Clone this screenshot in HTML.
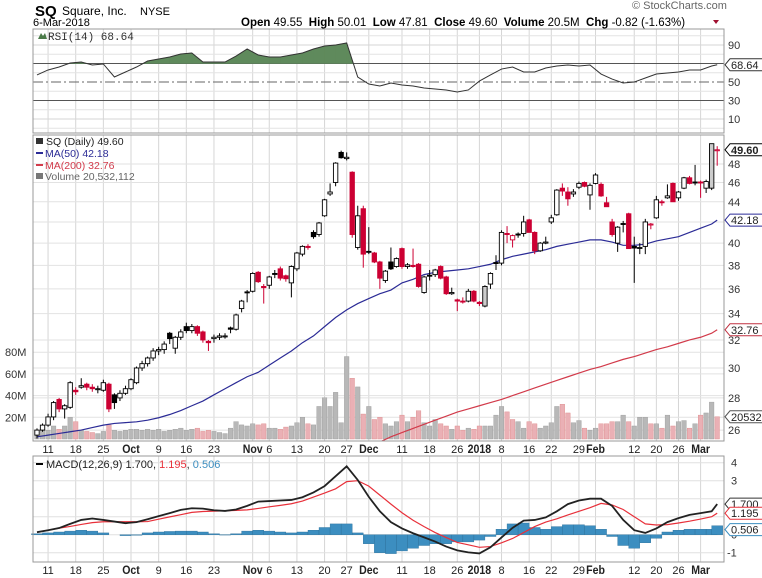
<!DOCTYPE html>
<html><head><meta charset="utf-8"><style>
body{margin:0;background:#fff;}
svg{display:block;font-family:"Liberation Sans",sans-serif;}
</style></head><body>
<svg id="c" width="762" height="578" xmlns="http://www.w3.org/2000/svg"></svg>
<script>
const tickLabels=["11","18","25","Oct","9","16","23","Nov","6","13","20","27","Dec","11","18","26","2018","8","16","22","29","Feb","12","20","26","Mar"];
const tickDays=[2,7,12,17,22,27,32,39,42,47,52,56,60,66,71,76,80,84,89,93,98,101,108,112,116,120];
const tickBold=[0,0,0,1,0,0,0,1,0,0,0,0,1,0,0,0,1,0,0,0,0,1,0,0,0,1];
const opens=[25.7,26.0,26.3,26.8,27.9,27.3,27.4,28.5,28.7,28.9,28.7,28.6,28.5,28.9,28.2,28.0,28.3,28.6,29.0,30.0,30.3,30.7,31.2,31.3,32.5,31.4,32.2,33.0,32.7,33.0,32.6,31.9,32.1,32.2,32.3,32.9,32.8,34.4,35.75,35.8,37.4,36.2,36.3,37.3,37.7,37.1,36.5,37.7,39.0,39.7,41.0,40.8,42.6,44.8,46.0,49.3,48.6,47.1,39.6,43.3,39.25,39.1,38.3,36.7,38.3,37.9,39.5,37.9,38.0,38.1,35.7,37.15,37.2,37.9,37.0,35.6,35.1,35.0,35.0,35.8,34.9,34.6,36.4,38.25,38.2,40.9,40.3,40.85,40.9,42.2,41.0,39.3,40.0,42.0,42.7,45.4,45.0,44.8,45.5,46.0,44.7,45.9,45.8,43.9,42.0,40.0,41.85,42.8,39.7,39.6,39.7,41.8,42.4,44.0,44.4,45.9,44.4,45.4,46.5,46.05,46.05,45.4,45.4,49.55];
const highs=[26.1,26.4,27.0,27.8,28.0,27.6,29.1,28.7,29.3,29.0,28.9,28.8,29.2,29.0,28.3,28.5,28.8,29.3,30.1,30.5,30.8,31.4,31.5,31.9,32.6,32.3,32.8,33.3,33.2,33.1,32.7,32.0,32.4,32.5,32.5,33.0,34.0,35.1,35.9,37.4,37.5,36.4,37.1,37.6,37.9,37.2,38.0,39.2,39.8,39.9,41.2,42.0,44.3,45.9,48.2,49.5,49.3,47.2,43.6,43.6,41.5,39.2,38.4,37.6,39.6,38.7,39.6,38.2,39.5,38.2,37.1,37.6,37.7,38.0,37.1,36.1,35.2,35.3,36.0,35.9,35.0,36.3,37.4,38.9,41.2,41.6,40.8,41.0,42.6,42.3,41.1,40.1,40.6,42.7,45.3,45.9,45.5,45.3,46.1,46.1,45.9,47.0,46.0,44.5,42.3,41.6,42.1,42.9,40.6,40.0,42.3,41.9,44.6,44.2,45.8,46.0,45.1,46.6,46.7,47.9,46.2,46.3,50.3,50.01];
const lows=[25.5,25.9,26.2,26.6,27.1,26.7,27.3,28.2,28.6,28.5,28.4,28.3,28.4,27.1,27.3,27.8,28.2,28.5,28.9,29.8,30.1,30.5,30.9,31.0,31.7,31.0,32.0,32.5,32.5,32.3,31.8,31.2,31.8,32.0,32.1,32.5,32.7,34.1,34.9,35.7,36.5,34.8,36.0,36.9,36.7,36.6,35.3,37.5,38.8,39.4,40.4,40.6,42.5,44.6,45.6,48.6,48.4,40.5,39.4,37.8,39.0,38.2,36.0,36.5,37.6,37.8,37.7,37.7,37.8,36.1,35.6,36.7,37.0,36.8,35.5,35.5,34.2,34.8,34.9,34.9,34.6,34.5,36.0,37.6,38.0,40.0,39.6,40.5,40.6,41.0,39.0,39.2,39.9,41.8,42.6,44.6,43.6,44.5,45.3,45.5,43.2,45.8,44.5,43.5,40.6,39.2,41.0,39.5,36.5,39.0,39.0,41.3,42.3,43.6,44.3,44.0,44.1,45.3,45.8,45.7,44.4,44.9,45.2,47.81];
const closes=[26.0,26.3,26.8,27.7,27.3,27.5,29.0,28.4,28.8,28.7,28.6,28.6,29.0,27.3,27.7,28.3,28.6,29.2,30.0,30.3,30.7,31.2,31.3,31.7,32.1,32.2,32.6,32.7,33.0,32.5,32.0,31.8,32.2,32.3,32.3,32.8,33.9,35.0,35.7,37.3,36.6,36.1,37.0,37.25,36.9,36.85,37.9,39.1,39.7,39.6,40.6,41.9,44.2,45.0,48.1,48.7,48.75,40.8,42.6,39.0,39.2,38.3,36.9,37.5,37.7,38.6,37.9,38.05,37.9,36.2,37.0,37.1,37.6,36.9,35.6,35.7,35.0,34.95,35.8,35.0,34.8,36.2,37.3,38.2,41.0,40.8,40.7,40.75,42.0,41.0,39.3,40.0,40.1,42.4,45.2,45.1,44.3,45.0,45.9,45.6,45.7,46.8,44.6,43.5,40.8,41.5,41.8,39.5,39.55,39.6,42.0,41.8,44.2,43.95,44.6,44.0,45.0,46.5,45.9,46.0,45.95,46.1,50.3,49.60];
const volumes=[8,10,8,12,9,12,20,16,8,7,6,5,7,13,8,7,8,9,9,8,9,8,9,7,8,9,10,8,9,10,7,8,7,6,5,10,16,13,12,14,13,14,10,10,9,11,12,15,20,14,13,30,38,30,43,15,76,56,48,23,30,18,20,14,12,16,22,16,20,26,15,12,18,14,12,9,12,8,10,9,12,12,12,22,30,25,18,16,10,16,14,10,12,15,30,32,24,15,17,10,8,10,14,14,16,16,22,16,12,20,20,14,14,10,22,12,16,17,10,14,22,24,34,20.5];
const ma50=[25.6,25.7,25.8,25.9,26.0,26.15,26.3,26.4,26.45,26.5,26.6,26.75,26.95,27.2,27.5,27.8,28.2,28.6,29.0,29.4,29.7,30.2,30.7,31.2,31.8,32.3,33.0,33.7,34.3,34.8,35.2,35.6,35.9,36.5,36.8,37.2,37.4,37.5,37.6,37.7,37.9,38.1,38.5,38.8,39.0,39.2,39.4,39.7,39.9,40.1,40.3,40.3,40.1,39.8,39.8,39.9,40.2,40.4,40.6,41.0,41.4,41.8,42.18];
const ma200=[null,null,null,null,null,null,null,null,null,null,null,null,null,null,null,null,null,null,null,null,null,null,null,null,null,null,null,null,null,null,null,25.3,25.6,25.85,26.1,26.35,26.6,26.85,27.1,27.3,27.5,27.7,27.9,28.15,28.4,28.65,28.9,29.15,29.4,29.65,29.9,30.1,30.35,30.6,30.8,31.05,31.3,31.5,31.75,32.0,32.2,32.5,32.76];
const rsi=[57.6,63,66.2,70.5,71.6,68.4,69.5,55.4,60.8,66.2,72.7,74.9,77,80.3,81.4,71.6,71.6,71.6,78.1,85.7,79.2,77,77,79.2,81.4,85.7,88.9,90,92.2,55.4,47.8,45.7,48.9,46.8,45.7,43.5,42.4,41.4,39.2,41.4,51,57.6,64,66.2,60.8,60.8,65.1,67.3,68.4,67.3,68.4,58.6,53.2,48.9,50,54.3,58.6,59.7,60.8,63,63,67.3,68.64];
const macd=[0.14,0.25,0.37,0.6,0.82,0.9,0.82,0.73,0.64,0.7,0.86,1.03,1.2,1.38,1.47,1.45,1.36,1.32,1.4,1.6,1.84,1.87,1.9,1.93,2.08,2.35,2.7,3.25,3.8,3.04,2.1,1.3,0.7,0.35,0.08,-0.15,-0.38,-0.66,-0.87,-0.98,-1.04,-0.7,-0.15,0.38,0.78,0.82,0.96,1.3,1.7,1.9,2.0,2.0,1.6,0.82,0.25,0.1,0.35,0.7,0.92,1.1,1.2,1.3,1.7];
const signal=[0.14,0.25,0.36,0.46,0.57,0.67,0.72,0.72,0.72,0.72,0.73,0.86,0.99,1.11,1.24,1.29,1.31,1.33,1.35,1.38,1.46,1.55,1.63,1.72,1.87,2.09,2.31,2.55,2.95,3.0,2.7,2.2,1.7,1.22,0.8,0.45,0.12,-0.16,-0.43,-0.56,-0.7,-0.66,-0.45,-0.21,0.12,0.45,0.7,0.88,1.1,1.3,1.5,1.74,1.65,1.4,1.0,0.6,0.54,0.56,0.65,0.75,0.87,1.0,1.195];
const hist=[0.05,0.1,0.15,0.2,0.25,0.2,0.1,0,-0.05,-0.03,0.1,0.15,0.18,0.2,0.2,0.15,0.05,-0.02,0.05,0.2,0.25,0.2,0.15,0.1,0.15,0.25,0.4,0.6,0.6,0.1,-0.5,-1.0,-1.05,-0.9,-0.75,-0.6,-0.5,-0.5,-0.4,-0.4,-0.3,-0.1,0.3,0.6,0.65,0.4,0.3,0.45,0.55,0.55,0.5,0.3,-0.1,-0.6,-0.75,-0.45,-0.2,0.15,0.25,0.3,0.3,0.3,0.5];

const S=document.getElementById('c');const NS='http://www.w3.org/2000/svg';
function el(t,a,p){const e=document.createElementNS(NS,t);for(const k in a)e.setAttribute(k,a[k]);(p||S).appendChild(e);return e;}
function tx(x,y,s,a,p){const e=el('text',Object.assign({x:x,y:y},a),p);e.textContent=s;return e;}
const L=33,R=724;
const xd=i=>37+i*5.53;
const xk=k=>k>=61.5?xd(123):xd(2*k); // grid of every 2 trading days
const yP=v=>164+(Math.log(48)-Math.log(v))*434;
const yV=v=>439-v*1.085;
const yR=v=>82-(v-50)*0.925;
const yM=v=>534.7-v*18;

// header
let g=el('g',{});
tx(35,16,'SQ',{'font-size':15,'font-weight':'bold'},g);
tx(62,15,'Square, Inc.',{'font-size':12},g);tx(140,15,'NYSE',{'font-size':11},g);
tx(33,26,'6-Mar-2018',{'font-size':11},g);
const hd=el('text',{x:241,y:26,'font-size':11.5},g);
hd.innerHTML='<tspan font-weight="bold">Open</tspan> 49.55  <tspan font-weight="bold">High</tspan> 50.01  <tspan font-weight="bold">Low</tspan> 47.81  <tspan font-weight="bold">Close</tspan> 49.60  <tspan font-weight="bold">Volume</tspan> 20.5M  <tspan font-weight="bold">Chg</tspan> -0.82 (-1.63%)';
hd.setAttribute('xml:space','preserve');hd.style.whiteSpace='pre';
el('path',{d:'M713 20 l6 0 l-3 4z',fill:'#a01030'},g);
tx(632,9,'© StockCharts.com',{'font-size':11,fill:'#666'},g);

function vgrid(y1,y2,p){tickDays.forEach(d=>{el('line',{x1:xd(d),x2:xd(d),y1:y1,y2:y2,stroke:'#d6d6d6','stroke-width':1},p);});}

// RSI panel
const rp=el('g',{});
vgrid(29,133,rp);
[100,80,60,40,20,0].forEach(v=>el('line',{x1:L,x2:R,y1:yR(v),y2:yR(v),stroke:'#e4e4e4'},rp));
[90,10].forEach(v=>el('line',{x1:L,x2:R,y1:yR(v),y2:yR(v),stroke:'#d6d6d6'},rp));
el('line',{x1:L,x2:R,y1:yR(70),y2:yR(70),stroke:'#555'},rp);
el('line',{x1:L,x2:R,y1:yR(30),y2:yR(30),stroke:'#555'},rp);
el('line',{x1:L,x2:R,y1:yR(50),y2:yR(50),stroke:'#666','stroke-dasharray':'10,3,2,3'},rp);
// fill above 70
let fp='';
for(let k=0;k<rsi.length-1;k++){const a=rsi[k],b=rsi[k+1],x1=xk(k),x2=xk(k+1);
 if(a<=70&&b<=70)continue;
 let sx=x1,sa=a,ex=x2,eb=b;
 if(a<70){sx=x1+(x2-x1)*(70-a)/(b-a);sa=70;}
 if(b<70){ex=x1+(x2-x1)*(70-a)/(b-a);eb=70;}
 fp+=`M${sx},${yR(70)}L${sx},${yR(sa)}L${ex},${yR(eb)}L${ex},${yR(70)}Z`;}
const rf=el('path',{d:fp,fill:'#5f8a5c',stroke:'#5f8a5c','stroke-width':0.5},rp);

const rl=el('polyline',{points:rsi.map((v,k)=>xk(k)+','+yR(v)).join(' '),fill:'none',stroke:'#333','stroke-width':1},rp);

el('rect',{x:L,y:29,width:R-L,height:104,fill:'none',stroke:'#999'},rp);
[90,50,30,10].forEach(v=>tx(728,yR(v)+4,String(v),{'font-size':11,fill:'#333'},rp));
el('path',{d:'M38 39 l3 -6 l2 3 l2 -3 l2 6z',fill:'#4a7a48'},rp);
tx(48,40,'RSI(14) 68.64',{'font-size':11,'font-family':'Liberation Mono, monospace',fill:'#333'},rp);
function box(y,t,col,bold,p,name){const b=el('g',{},p);
 el('path',{d:`M${R+1},${y} l5,-6 h${t.length*6.3+3} v12 h-${t.length*6.3+3}z`,fill:'#fff',stroke:col},b);
 tx(R+7,y+4,t,{'font-size':11,'font-weight':bold?'bold':'normal',fill:'#222'},b);}
box(yR(68.64),'68.64','#333',false,rp,'rsi-value-label');

// Main panel
const mp=el('g',{});
vgrid(135,441,mp);
[48,46,44,42,40,38,36,34,32,30,28,26].forEach(v=>el('line',{x1:L,x2:R,y1:yP(v),y2:yP(v),stroke:'#e2e2e2'},mp));
[80,60,40,20].forEach(v=>{el('line',{x1:L,x2:R,y1:yV(v),y2:yV(v),stroke:'#e2e2e2'},mp);tx(5,yV(v)+4,v+'M',{'font-size':11,fill:'#333'},mp);});
// volume
volumes.forEach((v,i)=>{const up=i==0||closes[i]>=closes[i-1];
 const r=el('rect',{x:xd(i)-2.3,y:yV(v),width:4.6,height:439-yV(v),fill:up?'#b8b8b8':'#eab0b5',stroke:up?'#999':'#d88',"stroke-width":0.4},mp);
 });
// MAs
const clipId='pc';const cp=el('clipPath',{id:clipId},mp);el('rect',{x:L,y:135,width:R-L,height:306},cp);
const m50=el('polyline',{points:ma50.map((v,k)=>xk(k)+','+yP(v)).join(' '),fill:'none',stroke:'#2b2b96','stroke-width':1.2,'clip-path':'url(#pc)'},mp);

const m2=el('polyline',{points:ma200.map((v,k)=>v==null?null:xk(k)+','+yP(v)).filter(s=>s).join(' '),fill:'none',stroke:'#d23a4a','stroke-width':1.2,'clip-path':'url(#pc)'},mp);

// candles
closes.forEach((c,i)=>{const o=opens[i],h=highs[i],l=lows[i];
 const down=i>0&&c<closes[i-1];const col=down?'#cc0033':'#000';const hollow=c>=o;
 const cg=el('g',{},mp);
 const x=xd(i);
 el('line',{x1:x,x2:x,y1:yP(h),y2:yP(l),stroke:col,'stroke-width':1},cg);
 const t=Math.min(yP(o),yP(c)),bh=Math.max(1,Math.abs(yP(o)-yP(c)));
 el('rect',{x:x-2.2,y:t,width:4.4,height:bh,fill:hollow?(i==122||i==81?'#ccc':'#fff'):col,stroke:col,'stroke-width':0.9},cg);});
el('rect',{x:L,y:135,width:R-L,height:306,fill:'none',stroke:'#999'},mp);
[48,46,44,40,38,36,34,32,30,28,26].forEach(v=>tx(728,yP(v)+4,String(v),{'font-size':11,fill:'#333'},mp));
box(yP(49.6),'49.60','#000',true,mp,'last-price-label');
box(yP(42.18),'42.18','#2b2b96',false,mp,'ma50-value-label');
box(yP(32.76),'32.76','#c03040',false,mp,'ma200-value-label');
box(yV(20.5),'20532','#555',false,mp,'volume-value-label');
// legend
const lg=el('g',{},mp);
el('rect',{x:36,y:138,width:7,height:6,fill:'#333'},lg);
tx(46,145,'SQ (Daily) 49.60',{'font-size':10.5,fill:'#222'},lg);
el('line',{x1:36,x2:43,y1:153,y2:153,stroke:'#2b2b96','stroke-width':2},lg);tx(45,157,'MA(50) 42.18',{'font-size':10.5,fill:'#2b2b96'},lg);
el('line',{x1:36,x2:43,y1:165,y2:165,stroke:'#d23a4a','stroke-width':2},lg);tx(45,169,'MA(200) 32.76',{'font-size':10.5,fill:'#d23a4a'},lg);
el('rect',{x:36,y:173,width:7,height:6,fill:'#777'},lg);tx(45,180,'Volume 20,532,112',{'font-size':10.5,fill:'#666'},lg);

// date axes
function dateAxis(y,name){const a=el('g',{});
 tickLabels.forEach((t,j)=>{const e=tx(xd(tickDays[j]),y,t,{'font-size':tickBold[j]?12:11,'font-weight':tickBold[j]?'bold':'normal','text-anchor':'middle',fill:'#222'},a);
  if(tickBold[j])e.setAttribute('transform',`scale(0.88,1) translate(${xd(tickDays[j])*(1/0.88-1)},0)`);});}
dateAxis(453,'price-date-axis');dateAxis(574,'macd-date-axis');

// MACD panel
const mc=el('g',{});
vgrid(456,562,mc);
[4,3,2,1,0,-1].forEach(v=>el('line',{x1:L,x2:R,y1:yM(v),y2:yM(v),stroke:'#e0e0e0'},mc));
hist.forEach((v,k)=>{const x=xk(k);const r=el('rect',{x:x-5.5,y:Math.min(yM(0),yM(v)),width:11,height:Math.abs(yM(v)-yM(0)),fill:'#3c8ec0',stroke:'#2a6f99','stroke-width':0.4},mc);
 });
const sl=el('polyline',{points:signal.map((v,k)=>xk(k)+','+yM(v)).join(' '),fill:'none',stroke:'#e8303a','stroke-width':1.2},mc);

const ml=el('polyline',{points:macd.map((v,k)=>xk(k)+','+yM(v)).join(' '),fill:'none',stroke:'#222','stroke-width':1.8},mc);

el('rect',{x:L,y:456,width:R-L,height:106,fill:'none',stroke:'#999'},mc);
[4,3,0,-1].forEach(v=>tx(v<0?727:731,yM(v)+4,String(v),{'font-size':11,fill:'#333'},mc));
box(yM(1.7),'1.700','#333',false,mc,'macd-value-label');
box(yM(1.195),'1.195','#e8303a',false,mc,'signal-value-label');
box(yM(0.506)+4,'0.506','#3c8ec0',false,mc,'histogram-value-label');
el('line',{x1:36,x2:43,y1:464,y2:464,stroke:'#000','stroke-width':2},mc);
const mt=el('text',{x:46,y:468,'font-size':11,fill:'#222'},mc);
mt.innerHTML='MACD(12,26,9) 1.700, <tspan fill="#e8303a">1.195</tspan>, <tspan fill="#3c8ec0">0.506</tspan>';
</script>
</body></html>
